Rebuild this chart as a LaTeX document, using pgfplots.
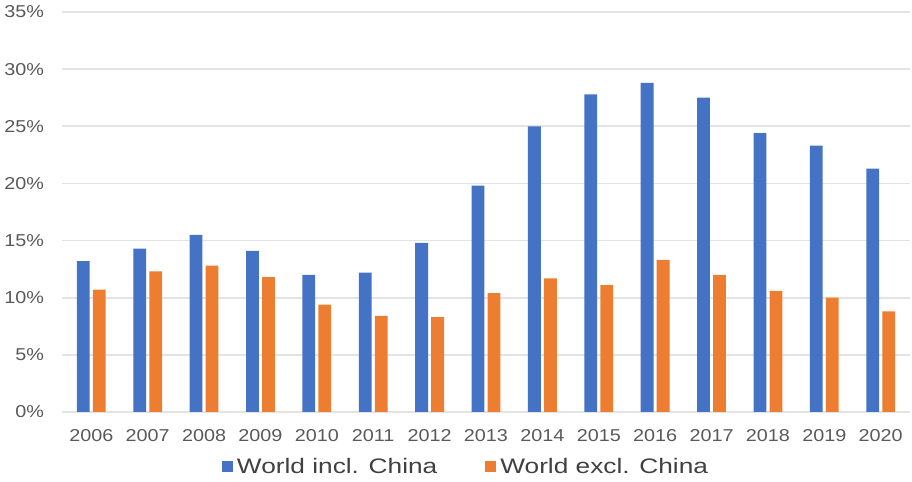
\documentclass[border=0pt]{standalone}
\usepackage{fontspec}
\setmainfont{Liberation Sans}
\newfontfamily\tickfont[FakeStretch=1.15]{Liberation Sans}
\newfontfamily\legfont[FakeStretch=1.25]{Liberation Sans}
\usepackage{pgfplots}
\pgfplotsset{compat=1.18}
\definecolor{cblue}{HTML}{4472C4}
\definecolor{corange}{HTML}{ED7D31}
\definecolor{cgrid}{HTML}{E3E3E3}
\definecolor{ctick}{HTML}{595959}
\definecolor{cleg}{HTML}{404040}
\begin{document}
\begin{tikzpicture}
\path[use as bounding box] (-31pt,-35pt) rectangle (425pt,206pt);
\begin{axis}[
  at={(0,0)}, anchor=south west,
  scale only axis,
  width=424pt, height=200pt,
  xmin=-0.52, xmax=14.52,
  ymin=0, ymax=35,
  ytick={0,5,...,35},
  xtick={0,...,14},
  xticklabels={2006,2007,2008,2009,2010,2011,2012,2013,2014,2015,2016,2017,2018,2019,2020},
  yticklabel={\pgfmathprintnumber{\tick}\%},
  /pgf/number format/assume math mode=true,
  major tick length=0pt,
  axis line style={draw=none},
  ymajorgrids,
  grid style={cgrid, line width=0.9pt},
  tick label style={font=\tickfont\fontsize{8.6pt}{10pt}\selectfont, text=ctick},
  xticklabel style={yshift=-5pt},
  yticklabel style={xshift=-5.5pt},
  ybar, bar width=6.4pt,
  legend columns=2,
  legend style={draw=none, fill=none, font=\legfont\fontsize{10.5pt}{12pt}\selectfont, text=cleg,
    at={(202.5pt,-27.5pt)}, anchor=center,
    /tikz/every even column/.append style={column sep=22pt}},
  legend image code/.code={\fill[#1, draw=none] (0pt,-2.75pt) rectangle (5.5pt,2.75pt);},
]
\addplot[fill=cblue, draw=none, bar shift=-4pt] coordinates {
 (0,13.2) (1,14.3) (2,15.5) (3,14.1) (4,12.0) (5,12.2) (6,14.8) (7,19.8)
 (8,25.0) (9,27.8) (10,28.8) (11,27.5) (12,24.4) (13,23.3) (14,21.3)};
\addplot[fill=corange, draw=none, bar shift=4pt] coordinates {
 (0,10.7) (1,12.3) (2,12.8) (3,11.8) (4,9.4) (5,8.4) (6,8.3) (7,10.4)
 (8,11.7) (9,11.1) (10,13.3) (11,12.0) (12,10.6) (13,10.0) (14,8.8)};
\legend{World incl. China, World excl. China}
\end{axis}
\end{tikzpicture}
\end{document}
